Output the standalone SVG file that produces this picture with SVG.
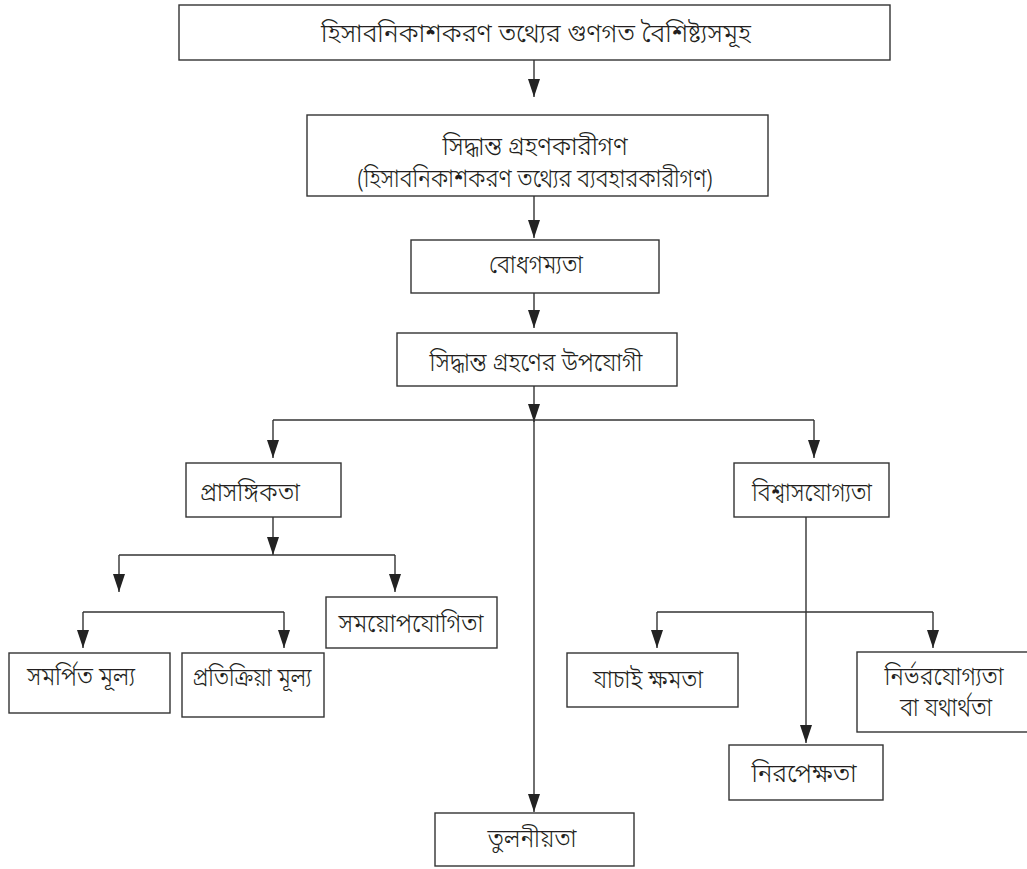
<svg xmlns="http://www.w3.org/2000/svg" width="1027" height="869" viewBox="0 0 1027 869">
<defs>
<style>
.box{fill:#fff;stroke:#333;stroke-width:1.4}
.ln{fill:none;stroke:#333;stroke-width:1.4}
.t{font-family:"Noto Sans Bengali","Noto Sans","Noto Sans CJK SC",sans-serif;font-size:25px;font-weight:300;fill:#231f20;text-anchor:middle}
</style>
<marker id="ah" viewBox="0 0 18 12" refX="18" refY="6" markerWidth="18" markerHeight="12" markerUnits="userSpaceOnUse" orient="auto">
<path d="M0,0 L18,6 L0,12 z" fill="#222"/>
</marker>
</defs>
<rect width="1027" height="869" fill="#fff"/>
<g id="connectors">
<line class="ln" x1="534" y1="60" x2="534" y2="97" marker-end="url(#ah)"/>
<line class="ln" x1="534" y1="196" x2="534" y2="238" marker-end="url(#ah)"/>
<line class="ln" x1="534" y1="293" x2="534" y2="328" marker-end="url(#ah)"/>
<line class="ln" x1="534" y1="386" x2="534" y2="422" marker-end="url(#ah)"/>
<line class="ln" x1="273" y1="420" x2="814" y2="420"/>
<line class="ln" x1="273" y1="420" x2="273" y2="458" marker-end="url(#ah)"/>
<line class="ln" x1="814" y1="420" x2="814" y2="458" marker-end="url(#ah)"/>
<line class="ln" x1="534" y1="420" x2="534" y2="812" marker-end="url(#ah)"/>
<line class="ln" x1="273" y1="517" x2="273" y2="555" marker-end="url(#ah)"/>
<line class="ln" x1="119" y1="555" x2="395" y2="555"/>
<line class="ln" x1="119" y1="555" x2="119" y2="592" marker-end="url(#ah)"/>
<line class="ln" x1="395" y1="555" x2="395" y2="592" marker-end="url(#ah)"/>
<line class="ln" x1="83" y1="612" x2="284" y2="612"/>
<line class="ln" x1="83" y1="612" x2="83" y2="648" marker-end="url(#ah)"/>
<line class="ln" x1="284" y1="612" x2="284" y2="648" marker-end="url(#ah)"/>
<line class="ln" x1="806" y1="517" x2="806" y2="743" marker-end="url(#ah)"/>
<line class="ln" x1="657" y1="612" x2="933" y2="612"/>
<line class="ln" x1="657" y1="612" x2="657" y2="648" marker-end="url(#ah)"/>
<line class="ln" x1="933" y1="612" x2="933" y2="648" marker-end="url(#ah)"/>
</g>
<g id="n-top">
<rect class="box" x="179" y="5" width="711" height="55"/>
<text class="t" x="536" y="42" textLength="430" lengthAdjust="spacingAndGlyphs">হিসাবনিকাশকরণ তথ্যের গুণগত বৈশিষ্ট্যসমূহ</text>
</g>
<g id="n-users">
<rect class="box" x="307" y="115" width="461" height="81"/>
<text class="t" x="535" y="155" textLength="185" lengthAdjust="spacingAndGlyphs">সিদ্ধান্ত গ্রহণকারীগণ</text>
<text class="t" x="535" y="187" textLength="355" lengthAdjust="spacingAndGlyphs">(হিসাবনিকাশকরণ তথ্যের ব্যবহারকারীগণ)</text>
</g>
<g id="n-understand">
<rect class="box" x="411" y="240" width="248" height="53"/>
<text class="t" x="536" y="273" textLength="94" lengthAdjust="spacingAndGlyphs">বোধগম্যতা</text>
</g>
<g id="n-useful">
<rect class="box" x="397" y="333" width="280" height="53"/>
<text class="t" x="536" y="371" textLength="213" lengthAdjust="spacingAndGlyphs">সিদ্ধান্ত গ্রহণের উপযোগী</text>
</g>
<g id="n-relevance">
<rect class="box" x="186" y="463" width="155" height="54"/>
<text class="t" x="250" y="501" textLength="100" lengthAdjust="spacingAndGlyphs">প্রাসঙ্গিকতা</text>
</g>
<g id="n-reliability">
<rect class="box" x="734" y="463" width="155" height="54"/>
<text class="t" x="812" y="501" textLength="120" lengthAdjust="spacingAndGlyphs">বিশ্বাসযোগ্যতা</text>
</g>
<g id="n-timeliness">
<rect class="box" x="326" y="597" width="171" height="51"/>
<text class="t" x="411" y="632" textLength="145" lengthAdjust="spacingAndGlyphs">সময়োপযোগিতা</text>
</g>
<g id="n-predictive">
<rect class="box" x="9" y="653" width="161" height="60"/>
<text class="t" x="81" y="685" textLength="108" lengthAdjust="spacingAndGlyphs">সমর্পিত মূল্য</text>
</g>
<g id="n-feedback">
<rect class="box" x="182" y="653" width="142" height="64"/>
<text class="t" x="252" y="686" textLength="119" lengthAdjust="spacingAndGlyphs">প্রতিক্রিয়া মূল্য</text>
</g>
<g id="n-verifiability">
<rect class="box" x="567" y="653" width="171" height="54"/>
<text class="t" x="648" y="688" textLength="110" lengthAdjust="spacingAndGlyphs">যাচাই ক্ষমতা</text>
</g>
<g id="n-faithfulness">
<rect class="box" x="857" y="652" width="180" height="80"/>
<text class="t" x="944" y="685" textLength="119" lengthAdjust="spacingAndGlyphs">নির্ভরযোগ্যতা</text>
<text class="t" x="946" y="716" textLength="92" lengthAdjust="spacingAndGlyphs">বা যথার্থতা</text>
</g>
<g id="n-neutrality">
<rect class="box" x="729" y="745" width="154" height="55"/>
<text class="t" x="804" y="782" textLength="105" lengthAdjust="spacingAndGlyphs">নিরপেক্ষতা</text>
</g>
<g id="n-comparability">
<rect class="box" x="435" y="813" width="199" height="53"/>
<text class="t" x="532" y="847" textLength="89" lengthAdjust="spacingAndGlyphs">তুলনীয়তা</text>
</g>
</svg>
